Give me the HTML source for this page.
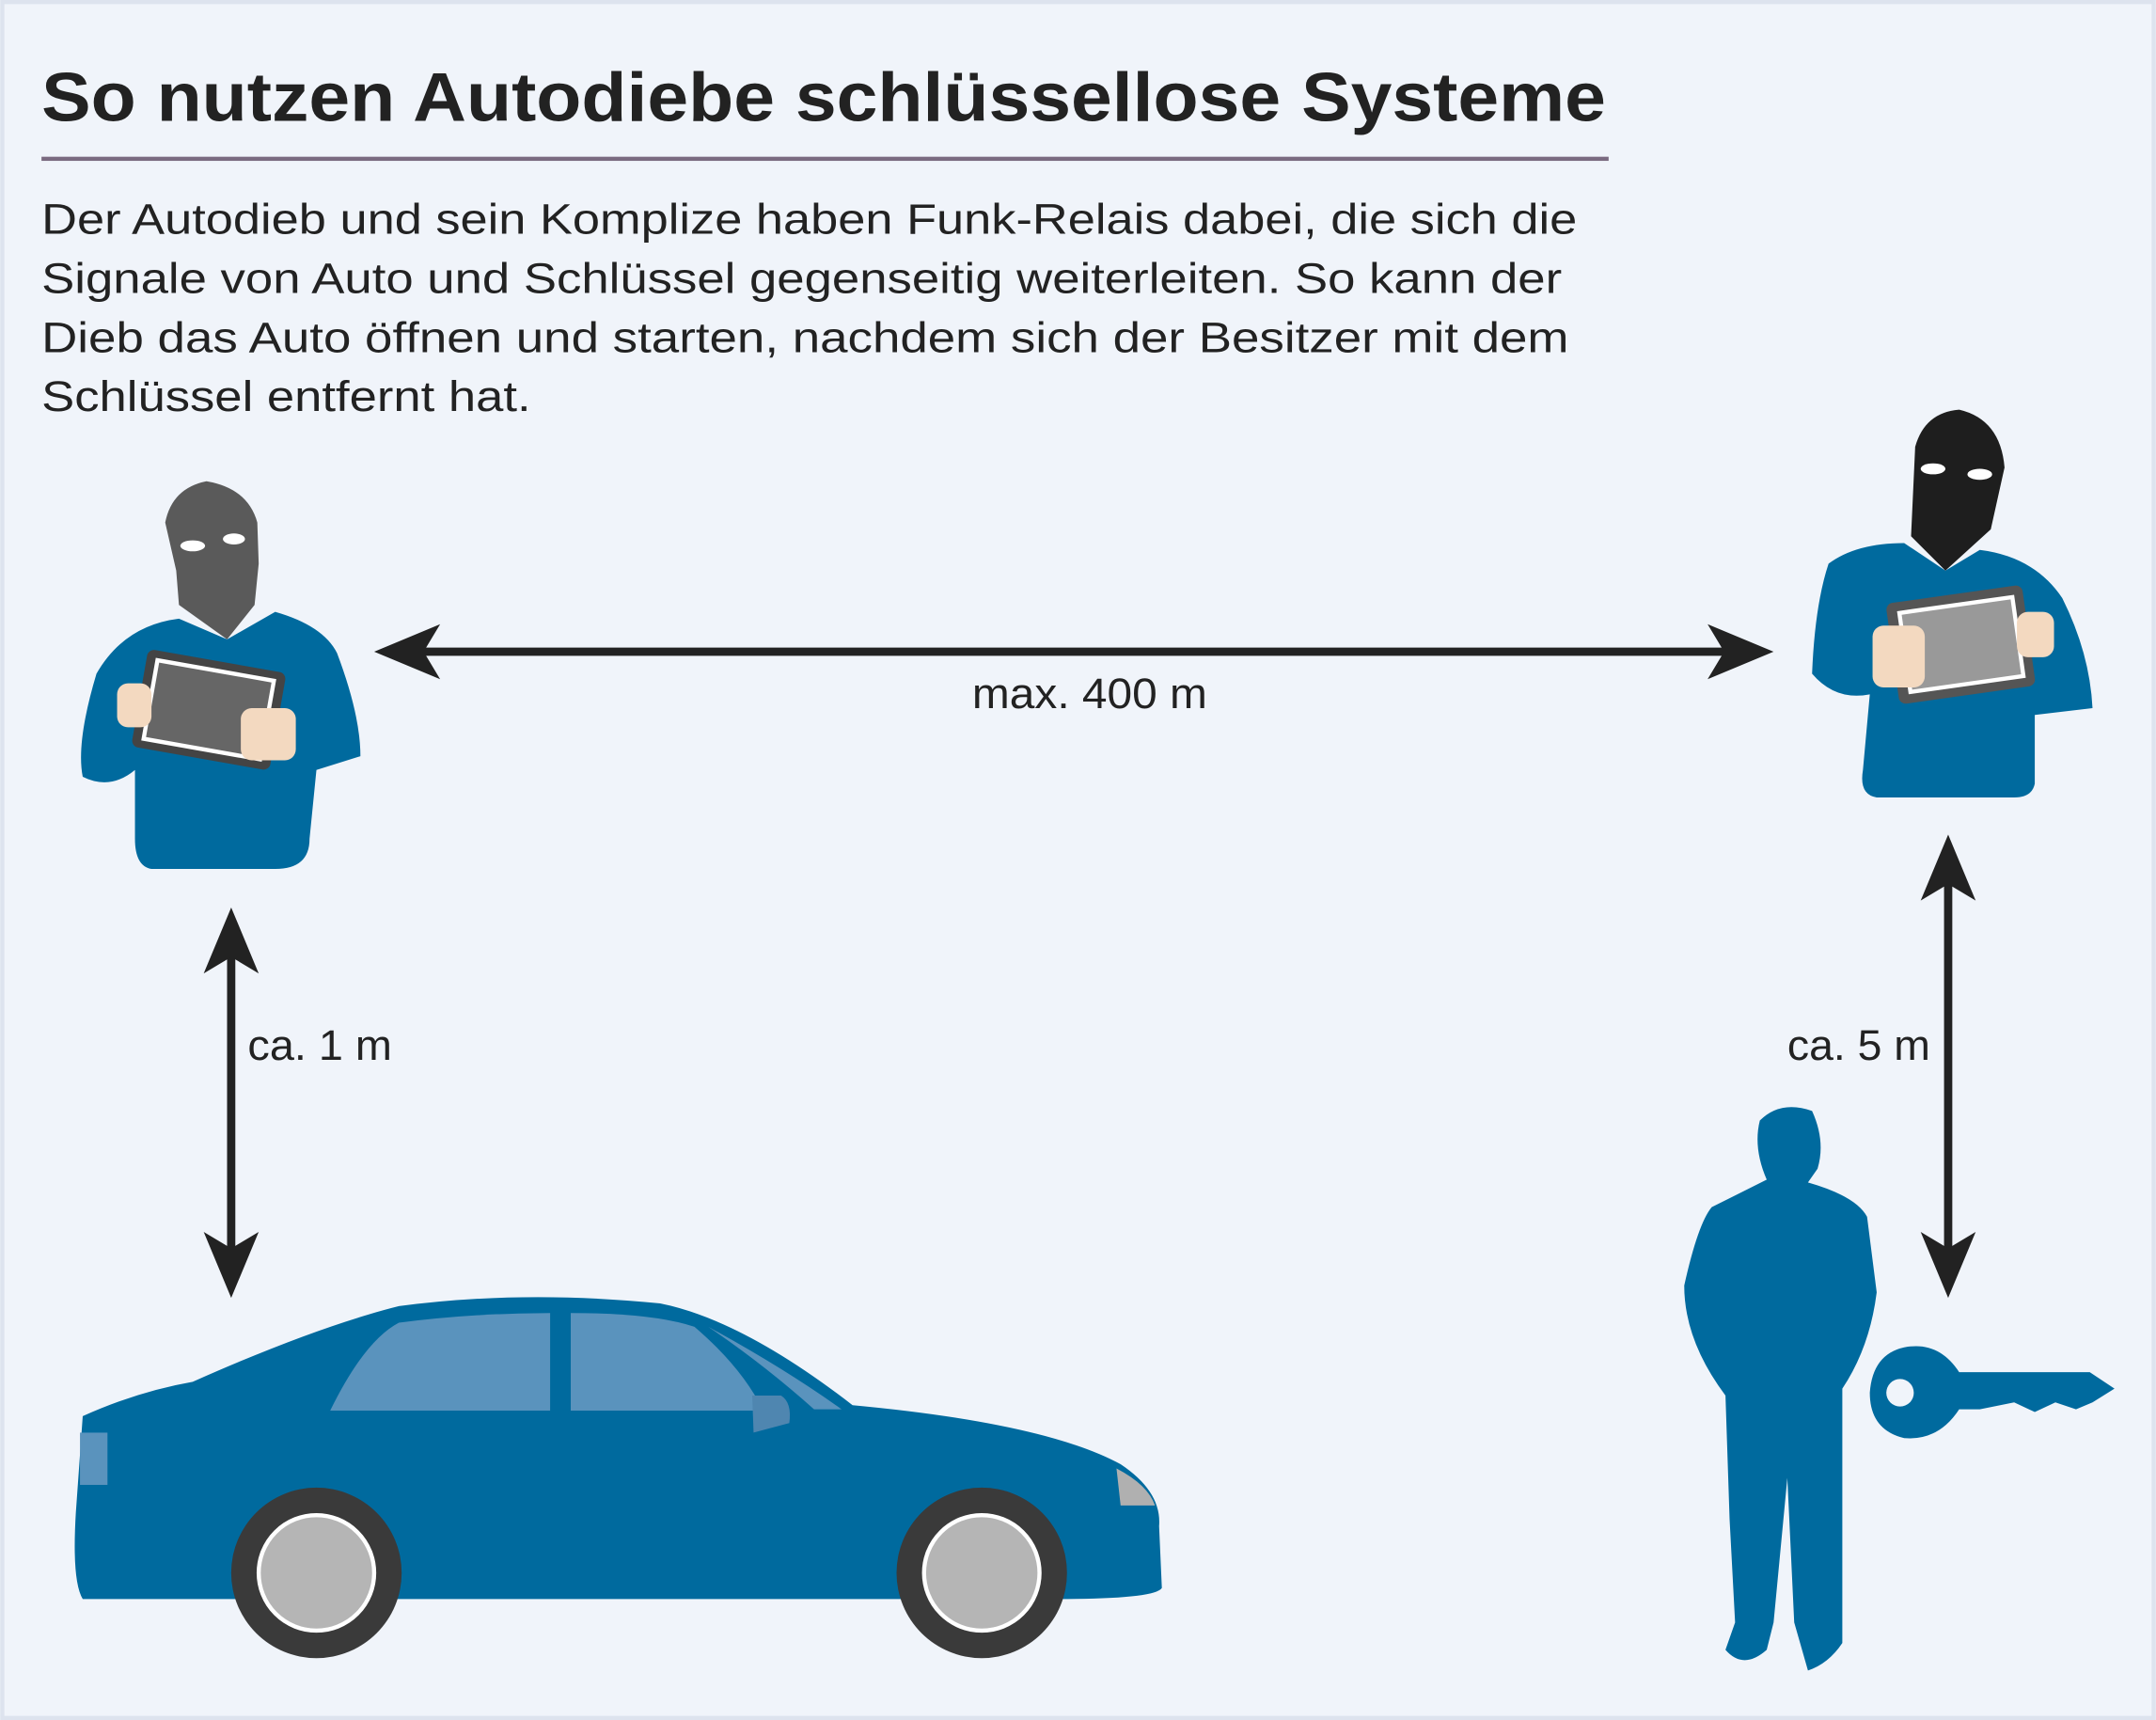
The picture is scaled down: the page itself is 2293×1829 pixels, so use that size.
<!DOCTYPE html>
<html><head><meta charset="utf-8"><style>
html,body{margin:0;padding:0;background:#eef2f9}
svg{display:block}
text{font-family:"Liberation Sans",sans-serif;fill:#222}
</style></head><body>
<svg width="2293" height="1829" viewBox="0 0 1568 1251" xmlns="http://www.w3.org/2000/svg">
<rect x="0" y="0" width="1568" height="1251" fill="#f0f4fa"/>
<rect x="1.5" y="1.5" width="1565" height="1248" fill="none" stroke="#dde3ee" stroke-width="3"/>
<text x="30" y="88" font-size="50" font-weight="bold" textLength="1138" lengthAdjust="spacingAndGlyphs">So nutzen Autodiebe schlüssellose Systeme</text>
<rect x="30" y="114" width="1140" height="3" fill="#7a6a80"/>
<g font-size="31">
<text x="30" y="170" textLength="1117" lengthAdjust="spacingAndGlyphs">Der Autodieb und sein Komplize haben Funk-Relais dabei, die sich die</text>
<text x="30" y="213" textLength="1106" lengthAdjust="spacingAndGlyphs">Signale von Auto und Schlüssel gegenseitig weiterleiten. So kann der</text>
<text x="30" y="256" textLength="1111" lengthAdjust="spacingAndGlyphs">Dieb das Auto öffnen und starten, nachdem sich der Besitzer mit dem</text>
<text x="30" y="299" textLength="356" lengthAdjust="spacingAndGlyphs">Schlüssel entfernt hat.</text>
</g>
<g fill="#222">
<rect x="300" y="471" width="965" height="6"/>
<polygon points="272,474 320,454 308,474 320,494"/>
<polygon points="1290,474 1242,454 1254,474 1242,494"/>
<rect x="165" y="690" width="6" height="225"/>
<polygon points="168,660 148,708 168,696 188,708"/>
<polygon points="168,944 148,896 168,908 188,896"/>
<rect x="1414" y="640" width="6" height="275"/>
<polygon points="1417,607 1397,655 1417,643 1437,655"/>
<polygon points="1417,944 1397,896 1417,908 1437,896"/>
</g>
<text x="707" y="515" font-size="31" textLength="171" lengthAdjust="spacingAndGlyphs">max. 400 m</text>
<text x="180" y="771" font-size="31" textLength="105" lengthAdjust="spacingAndGlyphs">ca. 1 m</text>
<text x="1300" y="771" font-size="31" textLength="104" lengthAdjust="spacingAndGlyphs">ca. 5 m</text>
<g>
<path d="M70,490 Q90,455 130,450 L165,465 L200,445 Q235,455 245,475 Q262,520 262,550 L230,560 L225,610 Q225,632 200,632 L110,632 Q98,630 98,610 L98,560 Q80,575 60,565 Q55,540 70,490 Z" fill="#006a9e"/>
<path d="M120,380 Q125,355 150,350 Q180,355 187,380 L188,410 L185,440 L165,465 L130,440 L128,415 Z" fill="#5a5a5a"/>
<ellipse cx="140" cy="397" rx="9" ry="4" fill="#fff"/><ellipse cx="170" cy="392" rx="8" ry="4" fill="#fff"/>
<g transform="rotate(10 150 520)"><rect x="100" y="480" width="102" height="72" rx="5" fill="#444"/><rect x="108" y="487" width="86" height="58" fill="#666" stroke="#fff" stroke-width="3"/></g>
<rect x="85" y="497" width="25" height="32" rx="8" fill="#f3d9c0"/>
<rect x="175" y="515" width="40" height="38" rx="8" fill="#f3d9c0"/>
</g>
<g>
<path d="M1330,410 Q1350,395 1385,395 L1415,415 L1440,400 Q1480,405 1500,435 Q1520,475 1522,515 L1480,520 L1480,570 Q1478,580 1465,580 L1365,580 Q1352,578 1355,560 L1360,505 Q1335,510 1318,490 Q1320,440 1330,410 Z" fill="#006a9e"/>
<path d="M1393,325 Q1400,300 1425,298 Q1455,305 1458,340 L1448,385 L1415,415 L1390,390 Z" fill="#1e1e1e"/>
<ellipse cx="1406" cy="341" rx="9" ry="4" fill="#fff"/><ellipse cx="1440" cy="345" rx="9" ry="4" fill="#fff"/>
<g transform="rotate(-8 1425 468)"><rect x="1376" y="432" width="100" height="74" rx="5" fill="#555"/><rect x="1385" y="440" width="83" height="58" fill="#999" stroke="#fff" stroke-width="3"/></g>
<rect x="1362" y="455" width="38" height="45" rx="8" fill="#f3d9c0"/>
<rect x="1467" y="445" width="27" height="33" rx="8" fill="#f3d9c0"/>
</g>
<g>
<path d="M60,1030 Q100,1012 140,1005 Q230,965 290,950 Q380,938 480,948 Q540,960 620,1022 Q760,1035 815,1065 Q845,1085 843,1110 L845,1155 Q840,1163 770,1163 L60,1163 Q52,1150 55,1100 Z" fill="#006a9e"/>
<path d="M240,1026 Q265,975 290,962 Q345,955 400,955 L400,1026 Z" fill="#5a93bd"/>
<path d="M415,955 Q475,955 505,965 Q540,995 555,1026 L415,1026 Z" fill="#5a93bd"/>
<path d="M515,965 Q570,995 612,1025 L592,1025 Q555,992 515,965 Z" fill="#5a93bd"/>
<path d="M547,1015 L568,1015 Q576,1020 574,1035 L548,1042 Z" fill="#4f86b0"/>
<path d="M812,1068 Q835,1080 840,1095 L815,1095 Z" fill="#b0b0b0"/>
<rect x="58" y="1042" width="20" height="38" fill="#5a93bd"/>
<circle cx="230" cy="1144" r="62" fill="#3a3a3a"/><circle cx="230" cy="1144" r="42" fill="#b5b5b5" stroke="#fff" stroke-width="3"/>
<circle cx="714" cy="1144" r="62" fill="#3a3a3a"/><circle cx="714" cy="1144" r="42" fill="#b5b5b5" stroke="#fff" stroke-width="3"/>
</g>
<g fill="#006a9e">
<path d="M1280,815 Q1295,800 1318,808 Q1328,830 1322,850 L1315,860 Q1350,870 1358,885 L1365,940 Q1360,980 1340,1010 L1340,1195 Q1330,1210 1315,1215 L1305,1180 L1300,1075 L1290,1180 L1285,1200 Q1268,1215 1255,1200 L1262,1180 L1258,1105 L1255,1015 Q1225,975 1225,935 Q1235,890 1245,878 L1285,858 Q1275,835 1280,815 Z"/>
<path d="M1385,980 Q1410,975 1425,998 L1520,998 L1538,1010 L1522,1020 L1510,1025 L1495,1020 L1480,1027 L1465,1020 L1440,1025 L1425,1025 Q1410,1048 1385,1046 Q1360,1040 1360,1013 Q1362,985 1385,980 Z"/>
</g>
<circle cx="1382" cy="1013" r="10" fill="#f0f4fa"/>
</svg>
</body></html>
